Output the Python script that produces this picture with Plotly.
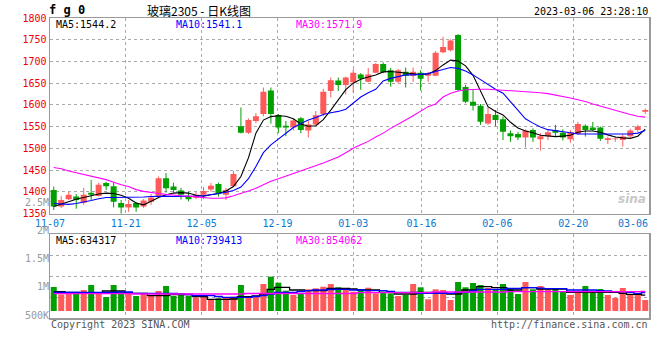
import plotly.graph_objects as go

# ---------------- data ----------------
dates = ["11-07","11-08","11-09","11-10","11-11","11-14","11-15","11-16","11-17","11-18",
         "11-21","11-22","11-23","11-24","11-25","11-28","11-29","11-30","12-01","12-02",
         "12-05","12-06","12-07","12-08","12-09","12-12","12-13","12-14","12-15","12-16",
         "12-19","12-20","12-21","12-22","12-23","12-26","12-27","12-28","12-29","12-30",
         "01-03","01-04","01-05","01-06","01-09","01-10","01-11","01-12","01-13","01-16",
         "01-17","01-18","01-19","01-20","01-30","01-31","02-01","02-02","02-03","02-06",
         "02-07","02-08","02-09","02-10","02-13","02-14","02-15","02-16","02-17","02-20",
         "02-21","02-22","02-23","02-24","02-27","02-28","03-01","03-02","03-03","03-06"]

opens = [1404,1366,1383,1389,1375,1398,1390,1420,1413,1374,
         1364,1374,1366,1377,1389,1431,1412,1403,1390,1386,
         1393,1405,1418,1393,1413,1551,1536,1563,1579,1633,
         1577,1552,1548,1569,1541,1555,1579,1632,1656,1646,
         1652,1670,1653,1674,1694,1680,1653,1676,1667,1674,
         1667,1667,1721,1726,1761,1641,1607,1598,1557,1577,
         1567,1535,1533,1525,1542,1521,1528,1542,1536,1521,
         1533,1552,1548,1548,1519,1521,1519,1528,1542,1584]
highs = [1412,1390,1400,1395,1409,1427,1421,1423,1421,1381,
         1381,1377,1383,1395,1435,1443,1421,1409,1400,1399,
         1411,1420,1421,1409,1448,1594,1569,1581,1640,1640,
         1579,1563,1568,1572,1563,1586,1637,1663,1663,1665,
         1682,1673,1685,1696,1698,1685,1683,1686,1686,1680,
         1676,1724,1757,1751,1763,1646,1634,1602,1595,1588,
         1573,1541,1538,1544,1546,1535,1542,1554,1544,1542,
         1561,1555,1561,1550,1527,1528,1532,1545,1554,1592]
lows = [1358,1363,1381,1361,1370,1381,1389,1404,1364,1348,
        1354,1354,1363,1370,1388,1398,1398,1382,1378,1383,
        1383,1400,1389,1381,1411,1534,1533,1558,1574,1557,
        1535,1528,1541,1535,1525,1554,1574,1617,1632,1624,
        1628,1635,1652,1673,1673,1642,1650,1640,1653,1633,
        1653,1667,1719,1723,1633,1604,1587,1554,1554,1551,
        1519,1515,1519,1502,1515,1495,1519,1527,1518,1513,
        1531,1527,1540,1517,1510,1515,1504,1525,1538,1579]
closes = [1366,1381,1393,1381,1393,1393,1416,1413,1377,1364,
          1372,1364,1380,1387,1431,1408,1404,1393,1383,1393,
          1402,1414,1397,1404,1441,1536,1565,1574,1630,1579,
          1548,1548,1564,1542,1555,1576,1630,1657,1646,1663,
          1674,1660,1670,1694,1675,1653,1680,1667,1676,1660,
          1673,1720,1733,1748,1634,1607,1598,1561,1579,1565,
          1538,1528,1525,1541,1525,1528,1537,1536,1525,1537,
          1556,1542,1542,1522,1523,1522,1527,1541,1550,1588]

ma5 = [1366,1372,1378,1383,1387,1391,1395,1397,1396,1392,
       1385,1374,1370,1378,1387,1393,1397,1398,1397,1392,
       1390,1393,1396,1402,1412,1435,1478,1535,1565,1573,
       1575,1574,1568,1556,1551,1552,1566,1588,1612,1635,
       1650,1659,1664,1669,1676,1677,1675,1673,1671,1670,
       1671,1679,1692,1703,1701,1690,1668,1630,1596,1585,
       1577,1560,1547,1540,1536,1530,1528,1527,1528,1530,
       1537,1540,1540,1537,1531,1526,1524,1523,1528,1544.2]
ma10 = [1373,1372,1371,1373,1376,1380,1384,1387,1387,1387,
        1387,1387,1388,1389,1390,1390,1389,1389,1389,1390,
        1391,1393,1396,1399,1403,1411,1430,1458,1490,1508,
        1522,1535,1548,1557,1565,1571,1578,1582,1585,1590,
        1605,1618,1628,1636,1655,1661,1665,1669,1669,1670,
        1672,1677,1682,1686,1684,1678,1669,1658,1646,1636,
        1627,1608,1588,1568,1558,1549,1543,1541,1539,1536,
        1533,1533,1532,1532,1532,1532,1532,1533,1535,1541.1]
ma30 = [1456,1453,1448,1444,1440,1436,1432,1428,1422,1416,
        1412,1405,1401,1398,1396,1394,1392,1391,1390,1388,
        1387,1385,1385,1386,1391,1396,1402,1408,1416,1424,
        1430,1436,1442,1447,1454,1460,1466,1473,1480,1490,
        1500,1508,1516,1526,1535,1546,1555,1565,1575,1585,
        1596,1602,1618,1627,1632,1635,1636,1636,1636,1635,
        1633,1633,1632,1631,1630,1628,1626,1623,1620,1616,
        1612,1608,1602,1597,1593,1588,1583,1578,1574,1571.9]

volumes = [960000,660000,700000,760000,840000,1040000,720000,560000,1040000,772000,
           680000,600000,708000,640000,800000,1000000,600000,708000,600000,532000,
           600000,468000,508000,532000,572000,1040000,600000,572000,1080000,1372000,
           1132000,812000,640000,708000,868000,908000,972000,1080000,948000,908000,
           772000,868000,932000,708000,772000,708000,600000,640000,1080000,948000,
           468000,868000,840000,440000,1160000,948000,1120000,1040000,920000,868000,
           1080000,892000,680000,1160000,868000,1000000,868000,920000,760000,640000,
           772000,1000000,812000,880000,640000,520000,920000,640000,640000,440000]
vol_ma5 = [772000,772000,748000,748000,720000,708000,708000,800000,800000,800000,
           720000,708000,708000,612000,612000,612000,660000,660000,660000,572000,
           572000,468000,468000,468000,480000,572000,572000,600000,680000,868000,
           948000,948000,840000,840000,812000,812000,812000,908000,908000,908000,
           880000,840000,840000,840000,748000,748000,680000,680000,680000,748000,
           748000,732000,732000,680000,680000,840000,840000,972000,972000,932000,
           932000,840000,840000,932000,932000,880000,880000,880000,880000,748000,
           748000,748000,748000,748000,748000,748000,708000,668000,668000,634317]
vol_ma10 = [748000,748000,748000,748000,748000,748000,748000,748000,748000,760000,
            760000,708000,708000,708000,708000,708000,708000,680000,660000,612000,
            612000,612000,580000,548000,548000,548000,548000,580000,612000,680000,
            748000,748000,748000,780000,812000,840000,840000,860000,868000,868000,
            840000,840000,812000,812000,812000,780000,748000,748000,748000,708000,
            708000,708000,708000,708000,748000,748000,800000,868000,868000,868000,
            868000,900000,900000,932000,932000,912000,892000,892000,892000,840000,
            840000,840000,840000,812000,800000,772000,772000,748000,708000,739413]
vol_ma30 = [692000,692000,692000,692000,692000,692000,692000,692000,692000,692000,
            692000,680000,680000,680000,680000,680000,680000,680000,680000,680000,
            680000,680000,680000,680000,680000,680000,700000,700000,700000,700000,
            700000,700000,700000,700000,700000,700000,700000,700000,700000,700000,
            700000,732000,732000,732000,732000,732000,732000,732000,732000,732000,
            732000,760000,760000,760000,760000,760000,760000,760000,760000,760000,
            760000,772000,772000,772000,772000,772000,772000,772000,772000,772000,
            772000,772000,772000,772000,772000,772000,772000,772000,776000,780000]

price_ticks = [1350, 1400, 1450, 1500, 1550, 1600, 1650, 1700, 1750, 1800]
vol_tick_vals = [500000, 1000000, 1500000, 2000000, 2500000]
vol_tick_text = ["500K", "1M", "1.5M", "2M", "2.5M"]
tick_dates = ["11-07", "11-21", "12-05", "12-19", "01-03", "01-16", "02-06", "02-20", "03-06"]

title_code = "f g 0"
title_name = "玻璃2305 - 日K线图"
timestamp = "2023-03-06 23:28:10"
legend_price = ["MA5:1544.2", "MA10:1541.1", "MA30:1571.9"]
legend_vol = ["MA5:634317", "MA10:739413", "MA30:854062"]

# ---------------- styling ----------------
UP = "#ff5a5a"
DOWN = "#00a000"
MA_COLORS = ["#000000", "#0000ff", "#ff00ff"]
GRID = "#aaaaaa"
BORDER = "#9a9a9a"
DATE_COLOR = "#0a78d2"
MONO = "DejaVu Sans Mono, Liberation Mono, monospace"
W, H = 660, 360
L, R = 50, 11

def px(x):
    return (x - L) / (W - L - R)

def py(y):
    return 1 - y / H

n = len(dates)
idx = list(range(n))
colors = [UP if c >= o else DOWN for o, c in zip(opens, closes)]

# Sina places the date grid on n-1 equal steps while candles sit in n slots
grid_pos = [dates.index(d) * n / (n - 1) - 0.5 for d in tick_dates]
# the last date label sits inside the right border -> drawn by a separate, shifted axis
grid_text = tick_dates[:-1] + [""]

fig = go.Figure()

# wicks
for col in (UP, DOWN):
    xs, ys = [], []
    for i in idx:
        if colors[i] == col:
            xs += [i, i, None]
            ys += [lows[i], highs[i], None]
    fig.add_trace(go.Scatter(x=xs, y=ys, mode="lines", line=dict(color=col, width=1),
                             xaxis="x", yaxis="y", hoverinfo="skip", showlegend=False))

# bodies
fig.add_trace(go.Bar(
    x=idx,
    y=[max(abs(c - o), 1.6) for o, c in zip(opens, closes)],
    base=[min(o, c) for o, c in zip(opens, closes)],
    width=0.8, marker=dict(color=colors, line=dict(width=0)),
    xaxis="x", yaxis="y", showlegend=False))

for arr, col in zip((ma5, ma10, ma30), MA_COLORS):
    fig.add_trace(go.Scatter(x=idx, y=arr, mode="lines", line=dict(color=col, width=1.1),
                             xaxis="x", yaxis="y", hoverinfo="skip", showlegend=False))

# volume
fig.add_trace(go.Bar(x=idx, y=volumes, width=0.8,
                     marker=dict(color=colors, line=dict(width=0)),
                     xaxis="x2", yaxis="y2", showlegend=False))
for arr, col in zip((vol_ma5, vol_ma10, vol_ma30), MA_COLORS):
    fig.add_trace(go.Scatter(x=idx, y=arr, mode="lines", line=dict(color=col, width=1.3, shape="hvh"),
                             xaxis="x2", yaxis="y2", hoverinfo="skip", showlegend=False))

# empty traces that carry the label-only axes
fig.add_trace(go.Scatter(x=[None], y=[None], xaxis="x3", yaxis="y3", showlegend=False, hoverinfo="skip"))
fig.add_trace(go.Scatter(x=[None], y=[None], xaxis="x4", yaxis="y", showlegend=False, hoverinfo="skip"))

main_dom = [py(213.5), py(18)]
vol_dom = [py(318), py(234.3)]
lab_dom = [py(318), py(195)]

common_x = dict(range=[-0.5, n - 0.5], tickvals=grid_pos, showgrid=True, gridcolor=GRID,
                griddash="dot", gridwidth=1, zeroline=False, showline=True, mirror=True,
                linecolor=BORDER, linewidth=1.5, ticks="", fixedrange=True, automargin=False,
                ticklabeloverflow="allow")

fig.update_layout(
    width=W, height=H,
    margin=dict(l=L, r=R, t=0, b=0, pad=0, autoexpand=False),
    paper_bgcolor="white", plot_bgcolor="rgba(0,0,0,0)",
    barmode="overlay", showlegend=False,
    font=dict(family=MONO, size=10, color="#000"),
    xaxis=dict(domain=[0, 1], anchor="y", ticktext=grid_text,
               tickfont=dict(family=MONO, size=10, color=DATE_COLOR), **common_x),
    xaxis2=dict(domain=[0, 1], anchor="y2", showticklabels=False, **common_x),
    xaxis3=dict(domain=[0, 1], anchor="y3", range=[0, 1], visible=False, automargin=False),
    xaxis4=dict(overlaying="x", anchor="y", side="bottom", range=[-0.5, n - 0.5],
                tickvals=[grid_pos[-1]], ticktext=[tick_dates[-1]],
                ticklabelshift=-16, ticklabeloverflow="allow",
                tickfont=dict(family=MONO, size=10, color=DATE_COLOR),
                showgrid=False, zeroline=False, showline=True, linecolor=BORDER, linewidth=1.5,
                ticks="", automargin=False),
    yaxis=dict(domain=main_dom, anchor="x", range=[price_ticks[0], price_ticks[-1]],
               tickvals=price_ticks, tickfont=dict(family=MONO, size=10, color="#ee0000"),
               showgrid=True, gridcolor=GRID, griddash="dot", zeroline=False, automargin=False,
               showline=True, mirror=True, linecolor=BORDER, linewidth=1.5, ticks="",
               ticklabeloverflow="allow"),
    yaxis2=dict(domain=vol_dom, anchor="x2", range=[-280000, 3068000],
                tick0=-280000, dtick=837000, showticklabels=False, automargin=False,
                showgrid=True, gridcolor=GRID, griddash="dot", zeroline=False,
                showline=True, mirror=True, linecolor=BORDER, linewidth=1.5, ticks=""),
    yaxis3=dict(domain=lab_dom, anchor="x3", side="left", range=[450500, 2623700],
                tickvals=vol_tick_vals, ticktext=vol_tick_text, automargin=False,
                tickfont=dict(family=MONO, size=10, color="#999999"),
                showgrid=False, zeroline=False, showline=False, ticks="",
                ticklabeloverflow="allow"),
)

ann = []
ann.append(dict(text="<b>" + title_code + "</b>", x=px(47), y=py(10), xanchor="left", yanchor="middle",
                font=dict(family=MONO, size=12, color="#000")))
ann.append(dict(text=title_name, x=px(199), y=py(10), xanchor="center", yanchor="middle",
                font=dict(family="Noto Sans CJK SC", size=12, color="#000")))
ann.append(dict(text=timestamp, x=px(650), y=py(12), xanchor="right", yanchor="middle",
                font=dict(family=MONO, size=10, color="#000")))
for txt, col, x0 in zip(legend_price, MA_COLORS, (54, 174, 294)):
    ann.append(dict(text=txt, x=px(x0), y=py(24.5), xanchor="left", yanchor="middle",
                    font=dict(family=MONO, size=10, color=col)))
for txt, col, x0 in zip(legend_vol, MA_COLORS, (54, 174, 294)):
    ann.append(dict(text=txt, x=px(x0), y=py(240), xanchor="left", yanchor="middle",
                    font=dict(family=MONO, size=10, color=col)))
ann.append(dict(text="Copyright 2023 SINA.COM", x=px(49), y=py(324), xanchor="left", yanchor="middle",
                font=dict(family=MONO, size=10, color="#555555")))
ann.append(dict(text="http://finance.sina.com.cn", x=px(650), y=py(324), xanchor="right", yanchor="middle",
                font=dict(family=MONO, size=10, color="#555555")))
ann.append(dict(text="<b><i>sina</i></b>", x=px(632), y=py(199), xanchor="center", yanchor="middle",
                font=dict(family="DejaVu Sans", size=12, color="#c8c8c8")))
for a in ann:
    a.update(xref="paper", yref="paper", showarrow=False)
fig.update_layout(annotations=ann)

# remove the default page margin so the 660x360 figure sits at the window's corner
fig.write_html("out.html", config={"displayModeBar": False, "staticPlot": True},
               post_script="document.body.style.margin='0';document.body.style.overflow='hidden';")
